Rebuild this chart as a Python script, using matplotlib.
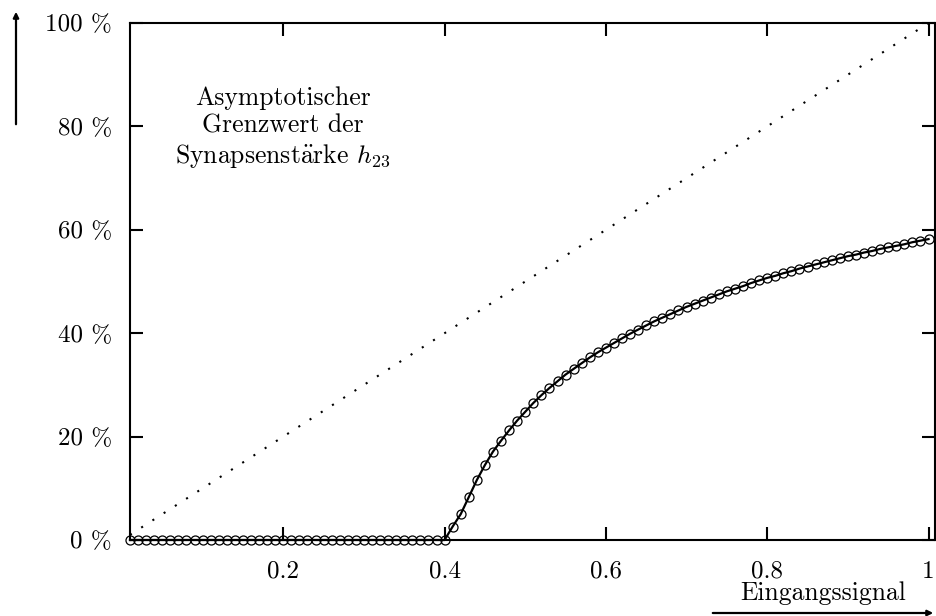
import matplotlib
matplotlib.use("Agg")
import matplotlib.pyplot as plt
import numpy as np

plt.rcParams['font.family'] = ['cmr10', 'DejaVu Serif']
plt.rcParams['mathtext.fontset'] = 'cm'
plt.rcParams['axes.unicode_minus'] = False

# ---- data ----
x_zero = [round(0.01 * i, 2) for i in range(1, 41)]          # 0.01 .. 0.40
y_zero = [0.0] * 40
x_rise = [round(0.41 + 0.01 * i, 2) for i in range(60)]      # 0.41 .. 1.00
y_rise = [2.6, 5.0, 8.3, 11.6, 14.5, 17.1, 19.2, 21.2, 23.1, 24.8,
          26.5, 28.0, 29.4, 30.7, 32.0, 33.1, 34.2, 35.3, 36.3, 37.2,
          38.1, 39.0, 39.9, 40.7, 41.5, 42.3, 43.0, 43.7, 44.4, 45.1,
          45.7, 46.3, 46.9, 47.5, 48.1, 48.6, 49.1, 49.7, 50.2, 50.7,
          51.1, 51.6, 52.0, 52.5, 52.9, 53.3, 53.7, 54.1, 54.5, 54.9,
          55.2, 55.6, 55.9, 56.3, 56.6, 56.9, 57.2, 57.6, 57.9, 58.2]
x_vals = x_zero + x_rise
y_vals = y_zero + y_rise
diag_x = [0.01, 1.0]
diag_y = [1.0, 100.0]

xticks = [0.2, 0.4, 0.6, 0.8, 1.0]
xticklabels = ['0.2', '0.4', '0.6', '0.8', '1']
yticks = [0, 20, 40, 60, 80, 100]
yticklabels = ['0 %', '20 %', '40 %', '60 %', '80 %', '100 %']

W, H = 937, 616
fig = plt.figure(figsize=(W / 100, H / 100), dpi=100)
ax = fig.add_axes([130 / W, 1 - 540 / H, (935 - 130) / W, (540 - 23) / H])

ax.plot(diag_x, diag_y, color='black', lw=1.5, ls=(0, (1, 5.4)))
ax.plot(x_vals, y_vals, color='black', lw=1.6, marker='o', ms=6.5,
        mfc='none', mec='black', mew=0.9, clip_on=False, zorder=3)

ax.set_xlim(0.01, 1.008)
ax.set_ylim(0, 100)
ax.set_xticks(xticks)
ax.set_xticklabels(xticklabels)
ax.set_yticks(yticks)
ax.set_yticklabels(yticklabels)
ax.tick_params(direction='in', length=9.5, width=1.5, top=True, right=True,
               labelsize=18)
ax.tick_params(axis='x', pad=15)
ax.tick_params(axis='y', pad=13)
for s in ax.spines.values():
    s.set_linewidth(1.5)

ax.text(283 / W, 1 - 128 / H,
        'Asymptotischer\nGrenzwert der\nSynapsenst$\\ddot{\\rm a}$rke $h_{23}$',
        transform=fig.transFigure, ha='center', va='center', fontsize=18.5,
        linespacing=1.2)

fig.text(823 / W, 1 - 593 / H, 'Eingangssignal', ha='center', va='center',
         fontsize=18.5)

fig.add_artist(matplotlib.patches.FancyArrowPatch(
    (710 / W, 1 - 613 / H), (936 / W, 1 - 613 / H), transform=fig.transFigure,
    arrowstyle='-|>', mutation_scale=8, lw=1.6, color='black'))
fig.add_artist(matplotlib.patches.FancyArrowPatch(
    (16 / W, 1 - 127 / H), (16 / W, 1 - 9 / H), transform=fig.transFigure,
    arrowstyle='-|>', mutation_scale=8, lw=1.6, color='black'))

fig.savefig('out.png', dpi=100)
